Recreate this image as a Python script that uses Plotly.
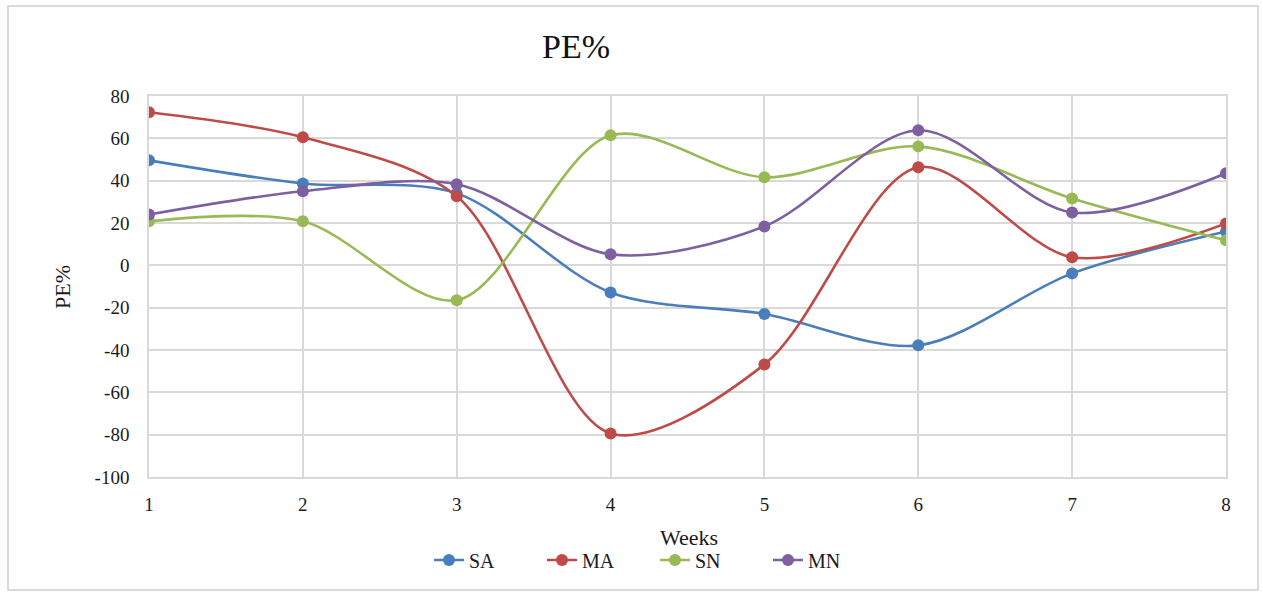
import plotly.graph_objects as go

weeks = [1, 2, 3, 4, 5, 6, 7, 8]
sa = [49.6, 38.7, 34.0, -12.8, -23.0, -37.8, -3.8, 16.0]
ma = [72.3, 60.5, 32.6, -79.4, -46.8, 46.3, 3.8, 19.8]
sn = [20.8, 20.8, -16.5, 61.4, 41.6, 56.2, 31.6, 11.8]
mn = [24.0, 35.0, 38.3, 5.2, 18.4, 63.8, 25.0, 43.5]
y_ticks = [80, 60, 40, 20, 0, -20, -40, -60, -80, -100]
y_ticktext = [str(v) for v in y_ticks]  # hyphen-minus like the original

series = [("SA", sa, "#4A7EBB"), ("MA", ma, "#BE4B48"), ("SN", sn, "#98B954"), ("MN", mn, "#7D60A0")]

fig = go.Figure()
for name, vals, col in series:
    fig.add_trace(go.Scatter(
        x=weeks, y=vals, name=name, mode="lines+markers",
        line=dict(color=col, width=2.6, shape="spline", smoothing=0.9),
        marker=dict(color=col, size=12),
    ))

serif = "Liberation Serif, Times New Roman, serif"
W, H = 1263, 592
L, R, T, B = 149, 37, 96, 115
pw, ph = W - L - R, H - T - B

def px_to_paper_x(px):
    return (px - L) / pw

def px_to_paper_y(py):
    return (H - B - py) / ph

fig.update_layout(
    width=W, height=H,
    margin=dict(l=L, r=R, t=T, b=B),
    paper_bgcolor="white", plot_bgcolor="white",
    font=dict(family=serif, color="#1a1a1a", size=19),
    title=dict(text="PE%", x=576 / W, xanchor="center", y=1 - 46 / H, yanchor="middle",
               font=dict(family=serif, size=34, color="#111")),
    xaxis=dict(range=[1, 8], tickvals=weeks, showgrid=True, gridcolor="#D9D9D9", gridwidth=1.5,
               zeroline=False, showline=True, linecolor="#D9D9D9", linewidth=1.5, mirror=True,
               ticks="outside", ticklen=9, tickcolor="rgba(0,0,0,0)",
               tickfont=dict(family=serif, size=19, color="#1a1a1a")),
    yaxis=dict(range=[-100, 80], tickvals=y_ticks, ticktext=y_ticktext, showgrid=True,
               gridcolor="#D9D9D9", gridwidth=1.5,
               zeroline=False, showline=True, linecolor="#D9D9D9", linewidth=1.5, mirror=True,
               ticks="outside", ticklen=14, tickcolor="rgba(0,0,0,0)",
               tickfont=dict(family=serif, size=19, color="#1a1a1a")),
    legend=dict(orientation="h", x=px_to_paper_x(429), xanchor="left",
                y=px_to_paper_y(560), yanchor="middle",
                font=dict(family=serif, size=20, color="#1a1a1a"),
                entrywidth=68, entrywidthmode="pixels", traceorder="normal"),
    annotations=[
        dict(text="Weeks", xref="paper", yref="paper", x=px_to_paper_x(689), y=px_to_paper_y(537),
             xanchor="center", yanchor="middle", showarrow=False,
             font=dict(family=serif, size=22, color="#1a1a1a")),
        dict(text="PE%", xref="paper", yref="paper", x=px_to_paper_x(62), y=px_to_paper_y(287),
             xanchor="center", yanchor="middle", showarrow=False, textangle=-90,
             font=dict(family=serif, size=22, color="#1a1a1a")),
    ],
    shapes=[dict(type="rect", xref="paper", yref="paper",
                 x0=px_to_paper_x(8), x1=px_to_paper_x(1258),
                 y0=px_to_paper_y(590), y1=px_to_paper_y(6),
                 line=dict(color="#D0D0D0", width=1.5), fillcolor="rgba(0,0,0,0)", layer="below")],
)

fig.write_html("out.html")
